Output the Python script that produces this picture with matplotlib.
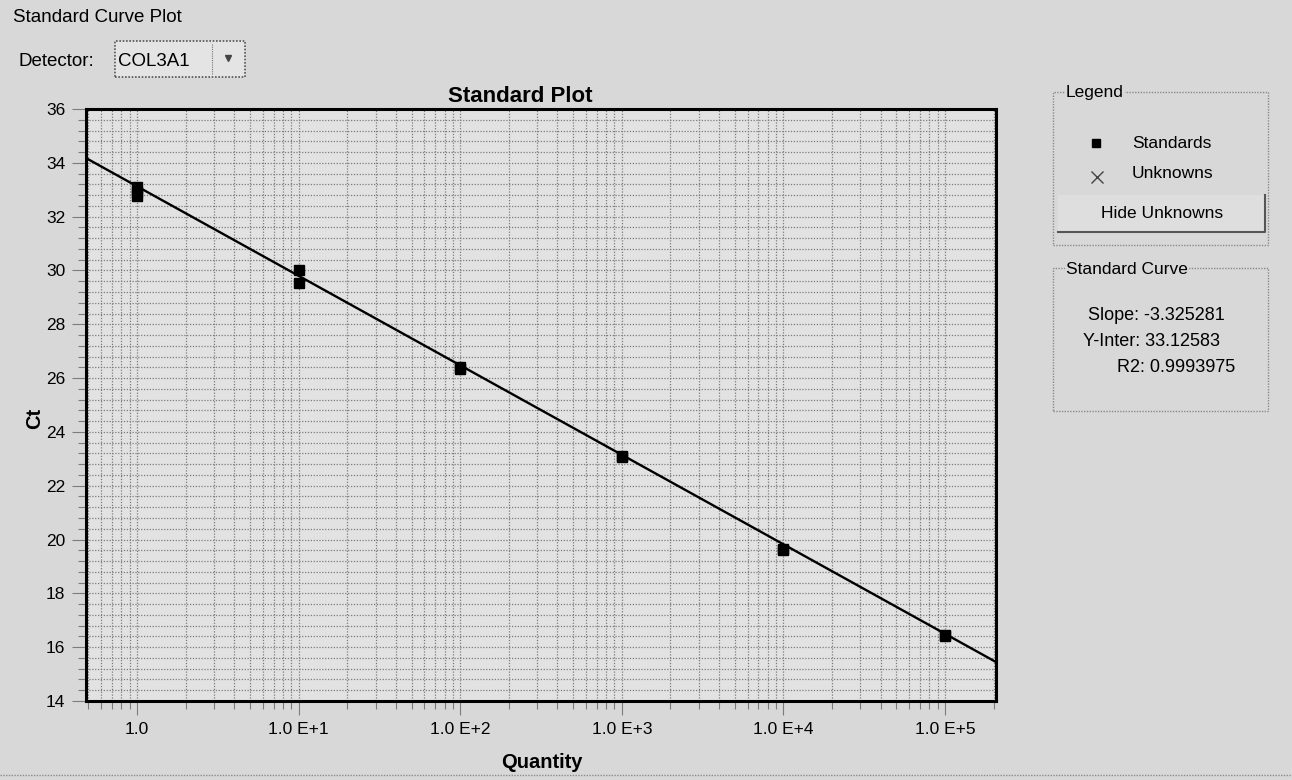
import numpy as np
import matplotlib.pyplot as plt
from matplotlib.patches import Rectangle
from matplotlib.lines import Line2D
from matplotlib.ticker import FixedLocator, LogLocator, NullFormatter

plt.rcParams['font.family'] = ['Liberation Sans', 'DejaVu Sans']

W, H = 1292, 780

# standards run for one detector
detector = 'COL3A1'
quantity = [1, 1, 1, 10, 10, 100, 100, 1000, 1000, 1e4, 1e4, 1e5, 1e5]
ct = [33.1, 32.9, 32.75, 30.0, 29.52, 26.4, 26.35, 23.1, 23.05, 19.65, 19.6, 16.45, 16.42]

# fitted standard curve
slope = -3.325281
y_inter = 33.12583
r2 = 0.9993975

x_ticks = [1, 10, 100, 1000, 1e4, 1e5]
x_tick_labels = ['1.0', '1.0 E+1', '1.0 E+2', '1.0 E+3', '1.0 E+4', '1.0 E+5']
y_ticks = [14, 16, 18, 20, 22, 24, 26, 28, 30, 32, 34, 36]

GRID = '#7c7c7c'
BG = '#d8d8d8'


def fx(x):
    return x / W


def fy(y):
    return 1 - y / H


def make_plot():
    fig = plt.figure(figsize=(W / 100, H / 100), dpi=100, facecolor=BG)

    ax = fig.add_axes([fx(86), fy(701), fx(996) - fx(86), fy(109) - fy(701)])
    ax.set_facecolor('#e2e2e2')
    ax.set_xscale('log')
    ax.set_xlim(0.483, 2.07e5)
    ax.set_ylim(14, 36)

    ax.xaxis.set_major_locator(FixedLocator(x_ticks))
    ax.set_xticklabels(x_tick_labels)
    ax.xaxis.set_minor_locator(LogLocator(base=10, subs=np.arange(2, 10), numticks=30))
    ax.xaxis.set_minor_formatter(NullFormatter())
    ax.set_yticks(y_ticks)
    ax.yaxis.set_minor_locator(FixedLocator(np.arange(14, 36.01, 0.4)))

    ax.grid(which='both', color=GRID, linestyle=(0, (1, 1.3)), linewidth=0.9)
    ax.set_axisbelow(True)
    ax.tick_params(which='major', length=10, width=0.8, color=GRID, labelsize=12.5, pad=5)
    ax.tick_params(which='minor', length=6, width=0.8, color=GRID)
    for s in ax.spines.values():
        s.set_linewidth(2.2)
        s.set_color('black')

    # regression line across the full x range
    xs = np.array(ax.get_xlim())
    ax.plot(xs, slope * np.log10(xs) + y_inter, color='black', lw=1.7, zorder=3)
    ax.plot(quantity, ct, 's', color='black', ms=6.8, zorder=4)

    fig.text(fx(520), fy(96), 'Standard Plot', fontsize=16, fontweight='bold',
             ha='center', va='center')
    fig.text(fx(542), fy(762), 'Quantity', fontsize=14.5, fontweight='bold',
             ha='center', va='center')
    fig.text(fx(35), fy(418), 'Ct', fontsize=14.5, fontweight='bold',
             ha='center', va='center', rotation=90)

    # header
    fig.text(fx(13), fy(17), 'Standard Curve Plot', fontsize=13.5, va='center')
    fig.text(fx(19), fy(62), 'Detector:', fontsize=13.5, va='center')
    fig.patches.append(Rectangle((fx(115), fy(77)), fx(245) - fx(115), fy(41) - fy(77),
                                 transform=fig.transFigure, facecolor='#e4e4e4',
                                 edgecolor='#555555', lw=1.2, linestyle=(0, (1, 1))))
    fig.lines.append(Line2D([fx(212), fx(212)], [fy(44), fy(74)], transform=fig.transFigure,
                            color='#777777', lw=0.8, linestyle=(0, (1, 1))))
    fig.text(fx(118), fy(62), detector, fontsize=13.5, va='center')
    fig.lines.append(Line2D([fx(228)], [fy(58)], transform=fig.transFigure, marker='v',
                            color='#444444', ms=5))

    # legend panel
    fig.patches.append(Rectangle((fx(1053), fy(245)), fx(1268) - fx(1053), fy(92) - fy(245),
                                 transform=fig.transFigure, facecolor='none',
                                 edgecolor='#8a8a8a', lw=1, linestyle=(0, (1, 1))))
    fig.text(fx(1066), fy(92), 'Legend', fontsize=12.5, va='center',
             bbox=dict(facecolor=BG, edgecolor='none', pad=1))
    fig.lines.append(Line2D([fx(1096)], [fy(143)], transform=fig.transFigure, marker='s',
                            color='black', ms=6, ls='none'))
    fig.text(fx(1132), fy(143), 'Standards', fontsize=12.5, va='center')
    fig.lines.append(Line2D([fx(1097)], [fy(177)], transform=fig.transFigure, marker='x',
                            color='#444444', ms=8, mew=1, ls='none'))
    fig.text(fx(1132), fy(173), 'Unknowns', fontsize=12.5, va='center')

    # button
    fig.patches.append(Rectangle((fx(1058), fy(232)), fx(1265) - fx(1058), fy(195) - fy(232),
                                 transform=fig.transFigure, facecolor='#dedede',
                                 edgecolor='none'))
    fig.lines.append(Line2D([fx(1058), fx(1265), fx(1265)], [fy(232), fy(232), fy(195)],
                            transform=fig.transFigure, color='#555555', lw=1.5))
    fig.text(fx(1162), fy(214), 'Hide Unknowns', fontsize=12.5, ha='center', va='center')

    # standard curve panel
    fig.patches.append(Rectangle((fx(1053), fy(411)), fx(1268) - fx(1053), fy(268) - fy(411),
                                 transform=fig.transFigure, facecolor='none',
                                 edgecolor='#8a8a8a', lw=1, linestyle=(0, (1, 1))))
    fig.text(fx(1066), fy(269), 'Standard Curve', fontsize=12.5, va='center',
             bbox=dict(facecolor=BG, edgecolor='none', pad=1))
    fig.text(fx(1088), fy(316), 'Slope: %.6f' % slope, fontsize=13, va='center')
    fig.text(fx(1083), fy(342), 'Y-Inter: %.5f' % y_inter, fontsize=13, va='center')
    fig.text(fx(1117), fy(367), 'R2: %.7f' % r2, fontsize=13, va='center')

    # bottom border of the window
    fig.lines.append(Line2D([0, 1], [fy(775), fy(775)], transform=fig.transFigure,
                            color='#8a8a8a', lw=1, linestyle=(0, (1, 1))))

    fig.savefig('out.png', dpi=100, facecolor=BG)


if __name__ == '__main__':
    make_plot()
